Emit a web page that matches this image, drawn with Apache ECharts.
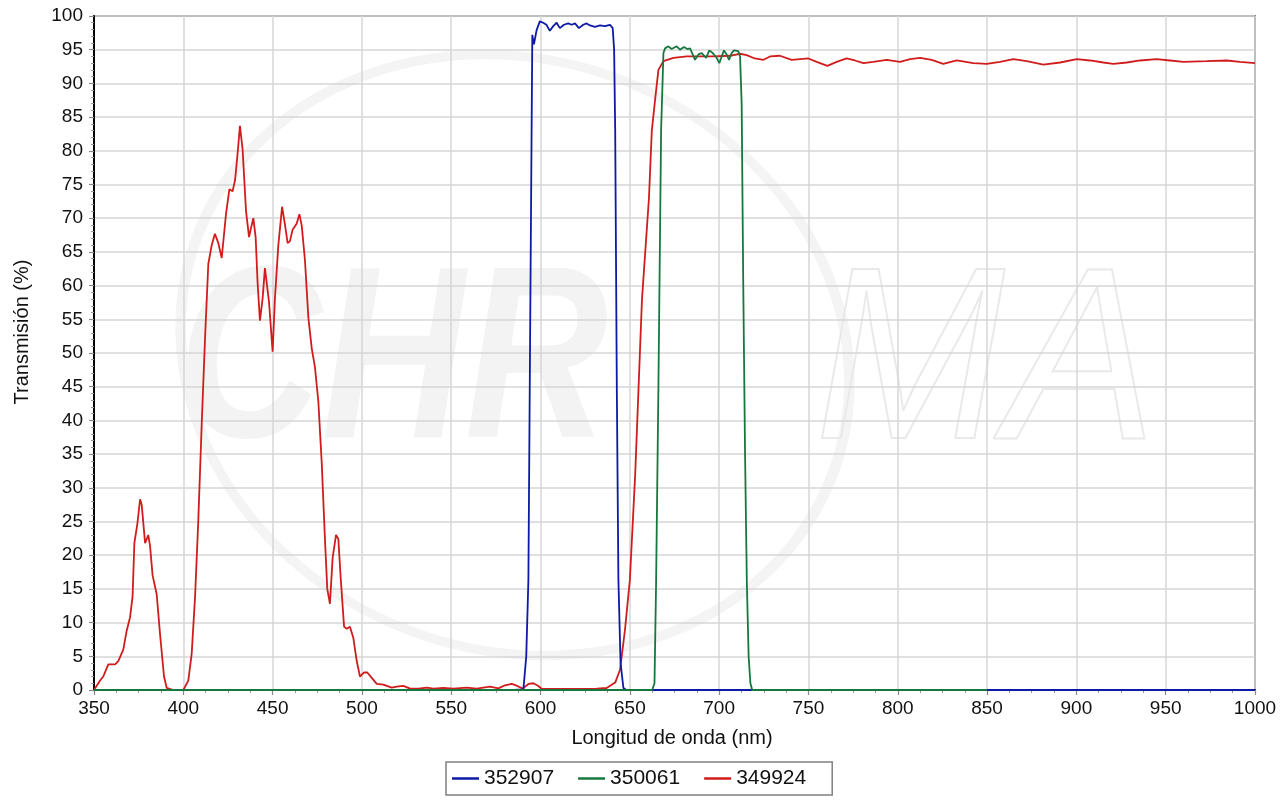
<!DOCTYPE html>
<html>
<head>
<meta charset="utf-8">
<script src="https://cdn.jsdelivr.net/npm/echarts@6/dist/echarts.min.js"></script>
<style>
html,body{margin:0;padding:0;background:#fff;}
#chart{width:1280px;height:800px;}
</style>
</head>
<body>
<div id="chart"></div>
<script>
// ---- Data (wavelength nm, transmission %) ----
const seriesNames = ['352907', '350061', '349924'];
const seriesColors = ['#0d1aa6', '#17783f', '#d01c1c'];

const xMin = 350, xMax = 1000, xStep = 50;
const yMin = 0, yMax = 100, yStep = 5;

const xName = 'Longitud de onda (nm)';
const yName = 'Transmisión (%)';

const blue352907 = [
  [585,0],[590.4,0.1],[592,5],[593.2,16.3],[594.1,50],[595,83],[595.4,97.2],[596.3,95.8],
  [597.8,97.9],[599.6,99.2],[601.5,99.0],[603.3,98.7],[605.2,97.8],[607.1,98.5],[609,99.0],
  [610.8,98.2],[613.1,98.7],[615.5,98.9],[617.4,98.7],[619.3,98.9],[621.5,98.2],[623.9,98.7],
  [625.8,98.9],[627.7,98.6],[630.5,98.4],[633.3,98.6],[636.1,98.5],[638.9,98.7],[640.4,98.2],
  [641.2,95],[641.8,83],[642.7,45],[643.6,16.3],[644.8,4],[646.4,0.3],[648,0],[1000,0]
];

const green350061 = [
  [350,0],[662.5,0],[663.8,1],[664.7,16],[666,45],[667.5,83],[668.8,94.5],[669.7,95.2],
  [671.6,95.5],[673.4,95.1],[676.2,95.5],[678.1,95.0],[680.3,95.4],[682.2,95.1],[683.7,95.2],
  [685.2,94.3],[686.5,93.5],[688.4,94.3],[690.2,94.5],[692.7,93.8],[694.5,94.9],[696.4,94.5],
  [698.6,93.8],[700.1,93.0],[701.4,94.0],[702.7,94.9],[704.2,94.3],[705.5,93.5],[707,94.5],
  [708.3,94.9],[710.7,94.8],[711.7,94.0],[712.6,87],[713.5,60],[714.5,35],[715.5,16],
  [716.5,5],[717.5,1],[718.5,0],[850,0]
];

const red349924 = [
  [350,0],[350.6,0],[353.4,1.4],[355.2,2.0],[358,3.8],[361.8,3.8],[363.6,4.3],[366.4,6.0],
  [368.3,8.8],[370.2,10.8],[371.6,13.9],[372.6,21.8],[374.3,24.7],[375.8,28.3],[376.7,27.5],
  [378.6,21.8],[380.4,23.0],[381.4,21.3],[382.8,17.0],[385.1,14.2],[387.0,8.2],[389.2,2.0],
  [390.7,0.3],[394.4,0],[400,0],[402.8,1.4],[404.7,5.4],[406.6,13.9],[408.4,25.2],[410.3,39.4],
  [412.2,52.4],[414.0,63.2],[415.9,66.0],[417.7,67.7],[419.6,66.3],[421.5,64.1],[422.4,64.3],
  [423.9,70.6],[425.8,74.3],[427.6,74.0],[429.0,75.7],[430.4,79.6],[431.7,83.7],[433.2,80.2],
  [435.1,71.1],[436.8,67.2],[437.7,68.3],[439.2,70.0],[440.5,67.2],[441.6,60.4],[442.9,54.8],
  [444.4,58.1],[445.7,62.6],[446.7,62.6],[448.0,57.5],[450.0,50.2],[451.3,58.1],[453.2,66.0],
  [455.3,71.7],[457.0,68.9],[458.4,66.3],[459.7,66.6],[461.2,68.3],[463.5,69.2],[465.0,70.6],
  [466.3,68.9],[468.1,63.8],[470.0,55.3],[471.9,50.7],[473.7,47.9],[475.6,42.8],[477.5,33.7],
  [479.3,22.4],[480.6,15.0],[482.1,12.8],[483.6,19.6],[485.5,23.0],[486.8,22.4],[488.1,16.7],
  [490.0,9.4],[491.5,9.1],[493.3,9.4],[495.2,7.7],[497.1,4.3],[498.9,2.0],[501.2,2.6],
  [503.0,2.6],[505.5,1.8],[508.3,0.9],[512,0.8],[516.7,0.35],[519.5,0.5],[523.2,0.6],[527,0.2],
  [531.7,0.2],[536.3,0.35],[540,0.2],[545.6,0.3],[551.2,0.2],[558.6,0.35],[564.3,0.2],
  [571.7,0.5],[576.4,0.25],[580.1,0.7],[583.9,0.9],[587,0.6],[590,0.2],[593.2,0.9],[596,1.0],
  [598.8,0.6],[600.7,0.15],[612.8,0.15],[631.5,0.2],[637,0.3],[641.8,1.1],[644.5,3],[647.3,9],
  [650,16.3],[653,32],[656.8,58],[660.7,73],[662.3,83],[664.1,87.5],[666,92],[668.8,93.3],
  [674.4,93.8],[681.8,94.0],[696.8,94.0],[706.1,94.1],[711.7,94.4],[715.4,94.2],[720,93.7],
  [724.8,93.5],[728.5,94.0],[734,94.1],[740.6,93.5],[745.3,93.6],[750,93.7],[754.6,93.2],
  [760.6,92.6],[765.8,93.2],[771.4,93.7],[776,93.4],[780.8,93.0],[786.3,93.2],[793.8,93.5],
  [801.3,93.2],[806.9,93.6],[812.5,93.8],[819,93.5],[825.5,92.9],[833,93.4],[842.3,93.0],
  [849.8,92.9],[857.3,93.2],[864.7,93.6],[872.2,93.3],[881.5,92.8],[890.9,93.1],[900.2,93.6],
  [907.7,93.4],[915.1,93.1],[920.7,92.9],[928.2,93.1],[935.7,93.4],[945,93.6],[952.5,93.4],
  [959.9,93.2],[973,93.3],[984.2,93.4],[991.6,93.2],[1000,93.0]
];

const chart = echarts.init(document.getElementById('chart'), null, {renderer: 'canvas'});
const FONT = '"Liberation Sans", Arial, sans-serif';

function lineSeries(name, data, color, z) {
  return {
    name: name, type: 'line', data: data, showSymbol: false, symbol: 'none',
    smooth: false, z: z, animation: false,
    lineStyle: {color: color, width: 1.8},
    itemStyle: {color: color}
  };
}

const option = {
  backgroundColor: '#ffffff',
  animation: false,
  grid: {left: 94, right: 25, top: 16, bottom: 110, containLabel: false,
         show: true, borderColor: '#7a7a7a', borderWidth: 2},
  legend: {
    data: seriesNames, left: 446, top: 762, orient: 'horizontal',
    borderColor: '#808080', borderWidth: 1.5, padding: [6, 26, 6, 6],
    itemGap: 24, itemWidth: 27, itemHeight: 2.5, icon: 'rect',
    textStyle: {fontFamily: FONT, fontSize: 21, color: '#111'}
  },
  xAxis: {
    type: 'value', min: xMin, max: xMax, interval: xStep,
    axisLine: {show: true, lineStyle: {color: '#000', width: 2}},
    axisTick: {show: true, length: 5, lineStyle: {color: '#888', width: 1.2}},
    minorTick: {show: true, splitNumber: 4, length: 3, lineStyle: {color: '#999', width: 1}},
    axisLabel: {fontFamily: FONT, fontSize: 19, color: '#111', margin: 9,
                formatter: function (v) { return String(v); }},
    splitLine: {show: true, lineStyle: {color: '#d6d6d6', width: 1.5}}
  },
  yAxis: {
    type: 'value', min: yMin, max: yMax, interval: yStep,
    axisLine: {show: true, lineStyle: {color: '#000', width: 2}},
    axisTick: {show: true, length: 5, lineStyle: {color: '#888', width: 1.2}},
    minorTick: {show: true, splitNumber: 5, length: 3, lineStyle: {color: '#999', width: 1}},
    axisLabel: {fontFamily: FONT, fontSize: 19, color: '#111', margin: 11,
                formatter: function (v) { return String(v); }},
    splitLine: {show: true, lineStyle: {color: '#d6d6d6', width: 1.5}}
  },
  graphic: [
    // watermark swoosh
    {type: 'circle', z: -10, silent: true, x: 515, y: 355, rotation: -0.35, scaleX: 1.15, scaleY: 1,
     shape: {cx: 0, cy: 0, r: 295},
     style: {fill: 'none', stroke: '#f4f4f4', lineWidth: 10, strokeNoScale: true}},
    {type: 'text', z: -9, silent: true, x: 178, y: 492, scaleX: 0.81,
     style: {text: 'CHR', font: 'italic bold 245px "Liberation Sans", Arial, sans-serif',
             fill: '#f3f3f3', textAlign: 'left', textVerticalAlign: 'bottom'}},
    {type: 'text', z: -9, silent: true, x: 815, y: 492, scaleX: 0.93,
     style: {text: 'MA', font: 'italic 245px "Liberation Sans", Arial, sans-serif',
             fill: 'rgba(255,255,255,0)', stroke: '#e9e9e9', lineWidth: 2,
             textAlign: 'left', textVerticalAlign: 'bottom'}},
    // axis names
    {type: 'text', x: 22, y: 332, rotation: Math.PI / 2,
     style: {text: yName, font: '20px "Liberation Sans", Arial, sans-serif', fill: '#111',
             textAlign: 'center', textVerticalAlign: 'middle'}},
    {type: 'text', x: 672, y: 738,
     style: {text: xName, font: '20px "Liberation Sans", Arial, sans-serif', fill: '#111',
             textAlign: 'center', textVerticalAlign: 'middle'}}
  ],
  series: [
    lineSeries(seriesNames[2], red349924, seriesColors[2], 2),
    lineSeries(seriesNames[0], blue352907, seriesColors[0], 3),
    lineSeries(seriesNames[1], green350061, seriesColors[1], 4)
  ]
};
chart.setOption(option);
</script>
</body>
</html>
